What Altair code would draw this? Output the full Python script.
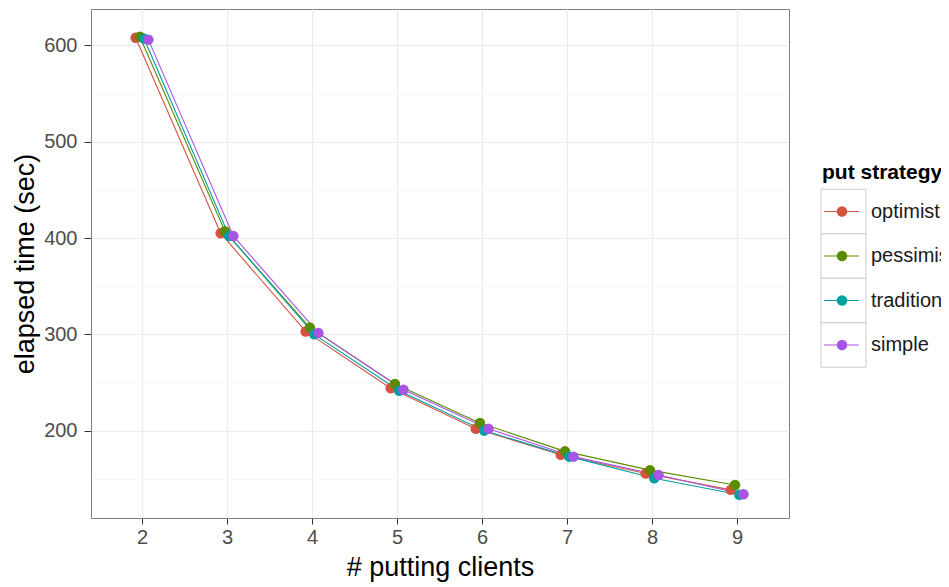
import json
import altair as alt
import pandas as pd

clients = [2, 3, 4, 5, 6, 7, 8, 9]
strategies = ["optimistic", "pessimistic", "traditional", "simple"]
optimistic = [608, 405, 303, 244, 202, 175, 155.5, 138.5]
pessimistic = [609, 407, 307, 248.5, 208, 178.5, 159, 143.5]
traditional = [607, 402, 300, 241.5, 200, 173, 150.5, 133.5]
simple = [606, 402, 301.5, 242.5, 202, 173, 154, 134]
colors = ["#d4523f", "#5b8c00", "#00a0a0", "#a855e6"]
y_ticks = [150, 200, 250, 300, 350, 400, 450, 500, 550, 600]
legend_title = "put strategy"

FONT = "Liberation Sans"

rows = []
for s, vals in zip(strategies, [optimistic, pessimistic, traditional, simple]):
    for c, v in zip(clients, vals):
        rows.append({"clients": c, "strategy": s, "time": v})
df = pd.DataFrame(rows)

dodge = 0.05
order_expr = "indexof(%s, datum.strategy)" % json.dumps(strategies)

color = alt.Color("strategy:N", scale=alt.Scale(domain=strategies, range=colors), legend=None)

major = "datum.value % 100 === 0"
x_enc = alt.X(
    "xd:Q",
    scale=alt.Scale(domain=[1.4, 9.61], nice=False, zero=False),
    axis=alt.Axis(values=clients, title="# putting clients", format="d",
                  tickSize=6, labelPadding=3, titlePadding=7,
                  gridColor="#ebebeb", gridWidth=1.2),
)
y_enc = alt.Y(
    "time:Q",
    scale=alt.Scale(domain=[109.3, 637.8], nice=False, zero=False),
    axis=alt.Axis(
        values=y_ticks, title="elapsed time (sec)",
        labelExpr="datum.value % 100 === 0 ? datum.label : ''",
        tickSize=7, labelPadding=7, titlePadding=4,
        gridColor={"condition": {"test": major, "value": "#ebebeb"}, "value": "#f4f4f4"},
        gridWidth={"condition": {"test": major, "value": 1.2}, "value": 0.7},
        tickOpacity={"condition": {"test": major, "value": 1}, "value": 0},
    ),
)

base = alt.Chart(df).transform_calculate(
    xd=f"datum.clients + ({order_expr} - 1.5) * {dodge}"
)
lines = base.mark_line(strokeWidth=1.1).encode(x=x_enc, y=y_enc, color=color)
points = base.mark_circle(size=110, opacity=1).encode(x=x_enc, y=y_enc, color=color)
main = alt.layer(lines, points)

# legend drawn as layers
leg_df = pd.DataFrame({"strategy": strategies, "rank": list(range(len(strategies)))})
leg = alt.Chart(leg_df).transform_calculate(
    py="202.5 + 44.5 * datum.rank",
    pyt="202.5 + 44.5 * datum.rank - 22.25",
    pyb="202.5 + 44.5 * datum.rank + 22.25",
)
leg_box = leg.mark_rect(fill="white", stroke="#cccccc", strokeWidth=1).encode(
    x=alt.value(730), x2=alt.value(775),
    y=alt.Y("pyt:Q", scale=None, axis=None), y2="pyb:Q",
)
leg_line = leg.mark_rule(strokeWidth=1.1).encode(
    x=alt.value(733), x2=alt.value(768),
    y=alt.Y("py:Q", scale=None, axis=None), color=color,
)
leg_pt = leg.mark_circle(size=110, opacity=1).encode(
    x=alt.value(751), y=alt.Y("py:Q", scale=None, axis=None), color=color,
)
leg_txt = leg.mark_text(align="left", baseline="middle", fontSize=20, font=FONT, color="#1a1a1a").encode(
    x=alt.value(780), y=alt.Y("py:Q", scale=None, axis=None), text="strategy:N",
)
leg_title = alt.Chart(pd.DataFrame({"t": [legend_title]})).mark_text(
    align="left", baseline="middle", fontSize=21, fontWeight="bold", font=FONT, color="#000000"
).encode(x=alt.value(731), y=alt.Y("yy:Q", scale=None, axis=None), text="t:N").transform_calculate(yy="164")
legend = alt.layer(leg_box, leg_line, leg_pt, leg_txt, leg_title)

chart = alt.layer(main, legend).resolve_scale(y="independent").properties(
    width=698, height=509,
    autosize=alt.AutoSizeParams(type="none"),
    padding={"left": 83, "top": 1, "right": 152, "bottom": 65},
).configure_view(
    stroke="#7f7f7f", strokeWidth=1, fill="white"
).configure_axis(
    domain=False,
    labelFont=FONT, labelFontSize=20, labelColor="#4d4d4d",
    titleFont=FONT, titleFontSize=27, titleFontWeight="normal", titleColor="#000000",
    tickColor="#333333", tickWidth=1,
)

chart.save("out.html", embed_options={"renderer": "svg", "actions": False})
